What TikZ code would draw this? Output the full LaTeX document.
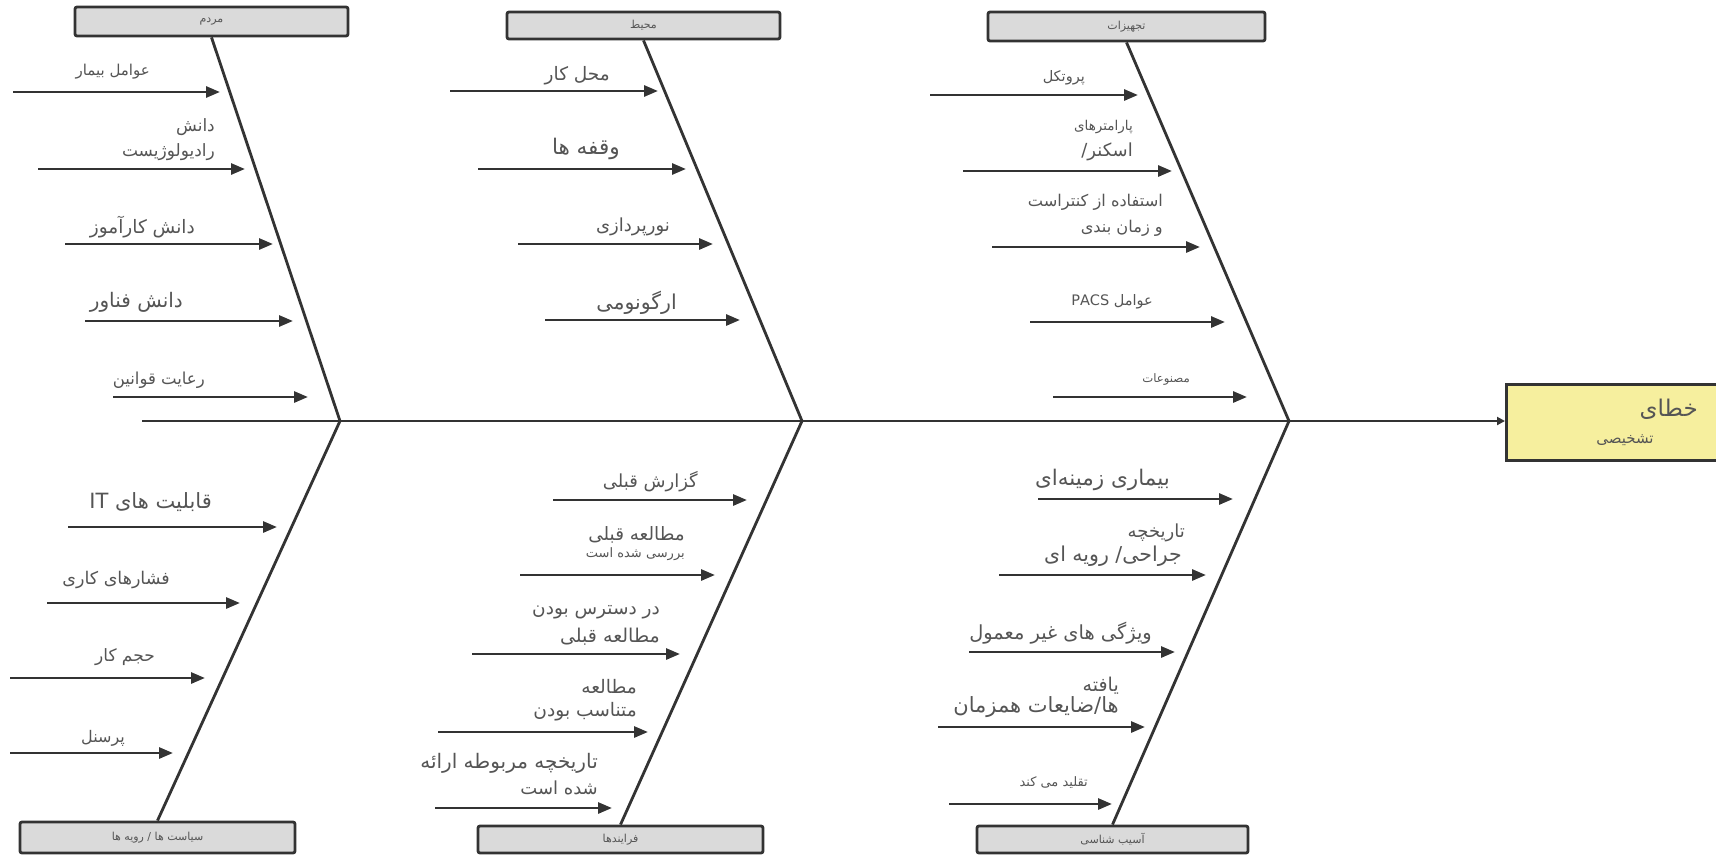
\documentclass[tikz,border=0pt]{standalone}
\usepackage{fontspec}
\setmainfont{DejaVu Sans}
\newfontfamily\fa[Script=Arabic]{DejaVu Sans}
\TeXXeTstate=1
\usetikzlibrary{arrows.meta}
\definecolor{ln}{HTML}{333333}
\definecolor{tx}{HTML}{555555}
\definecolor{boxfill}{HTML}{DADADA}
\definecolor{yel}{HTML}{F6EF9E}
\newcommand\rl[1]{\beginR #1\endR}
\newcommand\fs[2]{\fa\fontsize{#1}{#2}\selectfont}
\tikzset{
  bone/.style={draw=ln, line width=2.8pt},
  cause/.style={draw=ln, line width=2.8pt, -{Triangle[length=14pt,width=11pt]}},
  catbox/.style={draw=ln, fill=boxfill, line width=2.8pt, rounded corners=2pt, inner sep=0pt, text=tx, font=\fs{11}{13}},
  lbl/.style={text=tx, anchor=east, inner sep=0pt, align=right},
}
\begin{document}
\begin{tikzpicture}[x=1pt,y=-1pt]
\useasboundingbox (0,0) rectangle (1716,854);
\fill[white] (0,0) rectangle (1716,854);

% category boxes
\node[catbox, minimum width=273pt, minimum height=29pt] (people) at (211.5,21.5) {\rl{مردم}};
\node[catbox, minimum width=273pt, minimum height=27pt] (env) at (643.5,25.5) {\rl{محیط}};
\node[catbox, minimum width=277pt, minimum height=29pt] (equip) at (1126.5,26.5) {\rl{تجهیزات}};
\node[catbox, minimum width=275pt, minimum height=31pt] (policy) at (157.5,837.5) {\rl{سیاست ها / رویه ها}};
\node[catbox, minimum width=285pt, minimum height=27pt] (proc) at (620.5,839.5) {\rl{فرایندها}};
\node[catbox, minimum width=271pt, minimum height=27pt] (path) at (1112.5,839.5) {\rl{آسیب شناسی}};

% effect
\node[draw=ln, fill=yel, line width=2.8pt, inner sep=0pt, minimum width=240pt, minimum height=76pt, anchor=north west] (effect) at (1505,383) {};
\node[lbl, font=\fs{23}{26}] (eff1) at (1698,409) {\rl{خطای}};
\node[text=tx, inner sep=0pt, font=\fs{15}{18}] (eff2) at (1625,440) {\rl{تشخیصی}};

% spine and junctions
\coordinate (tail) at (142,421);
\coordinate (J1) at (340,421);
\coordinate (J2) at (802,421);
\coordinate (J3) at (1289,421);
\draw[draw=ln, line width=2.8pt, -{Triangle[length=8pt,width=8pt]}] (tail) -- (tail -| effect.west);

% bones
\draw[bone] (people.south) -- (J1);
\draw[bone] (env.south) -- (J2);
\draw[bone] (equip.south) -- (J3);
\draw[bone] (J1) -- (policy.north);
\draw[bone] (J2) -- (proc.north);
\draw[bone] (J3) -- (path.north);

% cause arrows
\foreach \n/\xa/\xb/\y in {
  a1/13/220/92, a2/38/245/169, a3/65/273/244, a4/85/293/321, a5/113/308/397,
  b1/450/658/91, b2/478/686/169, b3/518/713/244, b4/545/740/320,
  c1/930/1138/95, c2/963/1172/171, c3/992/1200/247, c4/1030/1225/322, c5/1053/1247/397,
  d1/68/277/527, d2/47/240/603, d3/10/205/678, d4/10/173/753,
  e1/553/747/500, e2/520/715/575, e3/472/680/654, e4/438/648/732, e5/435/612/808,
  f1/1038/1233/499, f2/999/1206/575, f3/969/1175/652, f4/938/1145/727, f5/949/1112/804}{
  \coordinate (\n s) at (\xa,\y);
  \coordinate (\n e) at (\xb,\y);
  \draw[cause] (\n s) -- (\n e);
}

% labels: people
\node[lbl, font=\fs{15}{18}] (la1) at (150,72) {\rl{عوامل بیمار}};
\node[lbl, font=\fs{17}{25}] (la2) at (215,140) {\rl{دانش}\\\rl{رادیولوژیست}};
\node[lbl, font=\fs{18.5}{21}] (la3) at (195,227) {\rl{دانش کارآموز}};
\node[lbl, font=\fs{20}{23}] (la4) at (183,302) {\rl{دانش فناور}};
\node[lbl, font=\fs{16.5}{19}] (la5) at (205,380) {\rl{رعایت قوانین}};
% environment
\node[lbl, font=\fs{18.5}{21}] (lb1) at (610,76) {\rl{محل کار}};
\node[lbl, font=\fs{21.5}{24}] (lb2) at (620,149) {\rl{وقفه ها}};
\node[lbl, font=\fs{18}{21}] (lb3) at (670,227) {\rl{نورپردازی}};
\node[lbl, font=\fs{20.5}{23}] (lb4) at (677,303) {\rl{ارگونومی}};
% equipment
\node[lbl, font=\fs{14.5}{17}] (lc1) at (1085,78) {\rl{پروتکل}};
\node[lbl, font=\fs{13.5}{16}] (lc2a) at (1133,127) {\rl{پارامترهای}};
\node[lbl, font=\fs{18}{21}] (lc2b) at (1133,152) {\rl{اسکنر/}};
\node[lbl, font=\fs{16.2}{26}] (lc3) at (1163,215) {\rl{استفاده از کنتراست}\\\rl{و زمان بندی}};
\node[lbl, font=\fs{14.5}{17}] (lc4) at (1153,302) {\rl{عوامل \beginL PACS\endL}};
\node[lbl, font=\fs{11.7}{14}] (lc5) at (1190,379) {\rl{مصنوعات}};
% policies
\node[lbl, font=\fs{21}{24}] (ld1) at (212,502) {\rl{قابلیت های \beginL IT\endL}};
\node[lbl, font=\fs{17.5}{20}] (ld2) at (170,580) {\rl{فشارهای کاری}};
\node[lbl, font=\fs{17}{20}] (ld3) at (155,657) {\rl{حجم کار}};
\node[lbl, font=\fs{16}{19}] (ld4) at (125,738) {\rl{پرسنل}};
% processes
\node[lbl, font=\fs{18}{21}] (le1) at (698,482) {\rl{گزارش قبلی}};
\node[lbl, font=\fs{18.4}{21}] (le2a) at (685,535) {\rl{مطالعه قبلی}};
\node[lbl, font=\fs{13}{15}] (le2b) at (685,554) {\rl{بررسی شده است}};
\node[lbl, font=\fs{18.5}{21}] (le3a) at (660,612) {\rl{در دسترس بودن}};
\node[lbl, font=\fs{19}{22}] (le3b) at (660,637) {\rl{مطالعه قبلی}};
\node[lbl, font=\fs{18.6}{23}] (le4) at (637,700) {\rl{مطالعه}\\\rl{متناسب بودن}};
\node[lbl, font=\fs{20}{23}] (le5a) at (598,763) {\rl{تاریخچه مربوطه ارائه}};
\node[lbl, font=\fs{18}{21}] (le5b) at (598,788) {\rl{شده است}};
% pathology
\node[lbl, font=\fs{21.5}{24}] (lf1) at (1170,480) {\rl{بیماری زمینه‌ای}};
\node[lbl, font=\fs{18}{21}] (lf2a) at (1185,533) {\rl{تاریخچه}};
\node[lbl, font=\fs{20.5}{23}] (lf2b) at (1182,556) {\rl{جراحی/ رویه ای}};
\node[lbl, font=\fs{19.4}{22}] (lf3) at (1152,633) {\rl{ویژگی های غیر معمول}};
\node[lbl, font=\fs{19}{22}] (lf4a) at (1119,686) {\rl{یافته}};
\node[lbl, font=\fs{21}{24}] (lf4b) at (1119,707) {\rl{ها/ضایعات همزمان}};
\node[lbl, font=\fs{13}{15}] (lf5) at (1088,783) {\rl{تقلید می کند}};
\end{tikzpicture}
\end{document}
